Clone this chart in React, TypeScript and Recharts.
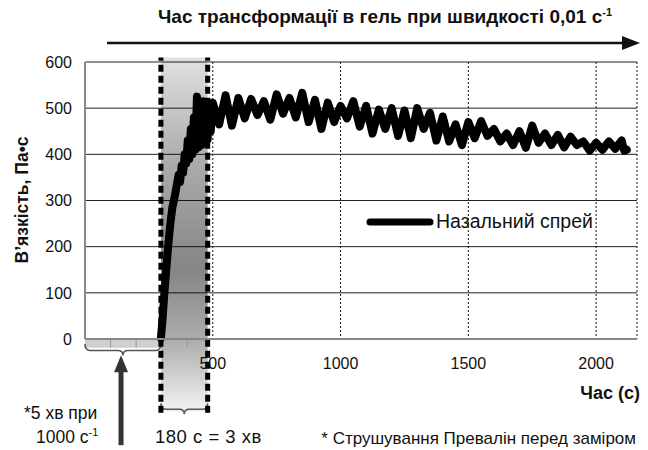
import React from "react";
import {
  ComposedChart,
  Line,
  XAxis,
  YAxis,
  CartesianGrid,
  ReferenceArea,
  ReferenceLine,
} from "recharts";

const TITLE = "Час трансформації в гель при швидкості 0,01 с";
const SERIES_NAME = "Назальний спрей";
const X_LABEL = "Час (с)";
const Y_LABEL = "В’язкість, Па•с";
const NOTE = "* Струшування Превалін перед заміром";

const X_TICKS = [500, 1000, 1500, 2000];
const Y_TICKS = [0, 100, 200, 300, 400, 500, 600];
const MINOR_TICKS = [100, 200, 400];

// pre-shear window (5 min at 1000 1/s) and gel window (180 s)
const SHEAR_WINDOW = [0, 297];
const GEL_WINDOW = [297, 480];

const riseTime = [297, 303, 310, 318, 326, 334, 342, 350, 358, 366, 372, 378, 384, 390, 396, 402, 408, 414, 420, 426, 432, 438, 444, 450, 456, 462, 468, 474, 480, 486, 492];
const riseVisc = [2, 40, 95, 150, 205, 250, 285, 305, 330, 355, 340, 375, 360, 400, 380, 430, 390, 455, 400, 480, 410, 525, 415, 505, 420, 515, 425, 510, 432, 505, 450];

const plateauTime = [
  500, 525, 550, 575, 600, 625, 650, 675, 700, 725, 750, 775, 800, 825, 850, 875, 900, 925, 950, 975,
  1000, 1025, 1050, 1075, 1100, 1125, 1150, 1175, 1200, 1225, 1250, 1275, 1300, 1325, 1350, 1375, 1400, 1425, 1450, 1475,
  1500, 1525, 1550, 1575, 1600, 1625, 1650, 1675, 1700, 1725, 1750, 1775, 1800, 1825, 1850, 1875, 1900, 1925, 1950, 1975,
  2000, 2025, 2050, 2075, 2100, 2110, 2120,
];
const plateauVisc = [
  512, 465, 528, 462, 522, 478, 520, 485, 515, 475, 530, 488, 522, 480, 533, 470, 518, 455, 512, 470,
  505, 478, 515, 460, 505, 445, 497, 455, 500, 440, 495, 435, 500, 455, 490, 430, 482, 428, 465, 420,
  470, 435, 472, 440, 455, 428, 445, 420, 450, 414, 462, 425, 445, 420, 442, 415, 438, 420, 428, 408,
  425, 410, 428, 412, 430, 408, 410,
];

const allTime = [...riseTime, ...plateauTime];
const allVisc = [...riseVisc, ...plateauVisc];
const data = allTime.map((t, i) => ({ t, v: allVisc[i] }));

const FONT = '"Liberation Sans", Arial, Helvetica, sans-serif';

const Brace = (props: any) => {
  const { x, y, width, height } = props;
  const mid = x + width / 2;
  const line = y + height * 0.55;
  const bot = y + height;
  const r = 5;
  const d = `M${x},${y} Q${x},${line} ${x + r},${line} L${mid - r},${line} Q${mid},${line} ${mid},${bot} Q${mid},${line} ${mid + r},${line} L${x + width - r},${line} Q${x + width},${line} ${x + width},${y}`;
  return <path d={d} fill="none" stroke="#555" strokeWidth={1.6} />;
};

const UpArrow = (props: any) => {
  const { x1, y1, y2 } = props;
  const top = Math.min(y1, y2);
  const bottom = Math.max(y1, y2);
  return (
    <g>
      <line x1={x1} y1={top + 14} x2={x1} y2={bottom} stroke="#333" strokeWidth={5} />
      <polygon points={`${x1 - 7},${top + 17} ${x1},${top} ${x1 + 7},${top + 17}`} fill="#333" />
    </g>
  );
};

export default function App() {
  return (
    <div
      style={{
        position: "absolute",
        left: 0,
        top: 0,
        width: 648,
        height: 450,
        background: "#fff",
        fontFamily: FONT,
      }}
    >
      <ComposedChart
        width={648}
        height={450}
        data={data}
        margin={{ top: 62, right: 11, left: 25, bottom: 71 }}
      >
        <defs>
          <linearGradient id="gelBand" x1="0" y1="0" x2="0" y2="1">
            <stop offset="0%" stopColor="#000" stopOpacity={0.12} />
            <stop offset="30%" stopColor="#000" stopOpacity={0.33} />
            <stop offset="60%" stopColor="#000" stopOpacity={0.48} />
            <stop offset="80%" stopColor="#000" stopOpacity={0.32} />
            <stop offset="100%" stopColor="#000" stopOpacity={0.04} />
          </linearGradient>
        </defs>
        <CartesianGrid vertical={false} stroke="#222" />
        <CartesianGrid horizontal={false} stroke="#111" strokeDasharray="2 2" />
        <XAxis
          type="number"
          dataKey="t"
          domain={[0, 2160]}
          ticks={X_TICKS}
          allowDataOverflow
          height={40}
          tickLine={false}
          tickSize={0}
          tickMargin={19}
          axisLine={{ stroke: "#888", strokeWidth: 2 }}
          tick={{ fontSize: 16, fill: "#111", fontFamily: FONT }}
        />
        <YAxis
          type="number"
          domain={[0, 600]}
          ticks={Y_TICKS}
          width={60}
          tickLine={false}
          tickSize={0}
          tickMargin={13}
          axisLine={{ stroke: "#888", strokeWidth: 2 }}
          tick={{ fontSize: 16, fill: "#111", fontFamily: FONT }}
        />
        <ReferenceArea
          x1={GEL_WINDOW[0]}
          x2={GEL_WINDOW[1]}
          y1={-158}
          y2={610}
          fill="url(#gelBand)"
          fillOpacity={1}
          ifOverflow="visible"
        />
        <ReferenceArea
          x1={SHEAR_WINDOW[0]}
          x2={SHEAR_WINDOW[1]}
          y1={-19}
          y2={0}
          fill="#cfcfcf"
          fillOpacity={1}
          ifOverflow="visible"
        />
        {MINOR_TICKS.map((t) => (
          <ReferenceLine
            key={t}
            segment={[{ x: t, y: 0 }, { x: t, y: -19 }]}
            stroke="#999"
            strokeWidth={1}
            ifOverflow="visible"
          />
        ))}
        <ReferenceArea
          x1={SHEAR_WINDOW[0]}
          x2={SHEAR_WINDOW[1]}
          y1={-11}
          y2={-36}
          ifOverflow="visible"
          shape={Brace}
        />
        <ReferenceArea
          x1={GEL_WINDOW[0]}
          x2={GEL_WINDOW[1]}
          y1={-139}
          y2={-163}
          ifOverflow="visible"
          shape={Brace}
        />
        <ReferenceLine
          segment={[{ x: 141, y: -230 }, { x: 141, y: -35 }]}
          ifOverflow="visible"
          shape={UpArrow}
        />
        <Line
          type="linear"
          dataKey="v"
          name={SERIES_NAME}
          stroke="#000"
          strokeWidth={8}
          strokeLinejoin="round"
          strokeLinecap="round"
          dot={false}
          isAnimationActive={false}
        />
        {GEL_WINDOW.map((t) => (
          <ReferenceLine
            key={t}
            segment={[{ x: t, y: -160 }, { x: t, y: 610 }]}
            stroke="#000"
            strokeWidth={5}
            strokeDasharray="7 4"
            ifOverflow="visible"
          />
        ))}
      </ComposedChart>

      <svg
        width={648}
        height={450}
        style={{ position: "absolute", left: 0, top: 0, pointerEvents: "none" }}
        fontFamily={FONT}
      >
        <text x={385} y={23} textAnchor="middle" fontSize={19} fontWeight="bold" fill="#111">
          {TITLE}
          <tspan dy={-7} fontSize={11}>-1</tspan>
        </text>
        <line x1={107} y1={43} x2={624} y2={43} stroke="#111" strokeWidth={2.5} />
        <polygon points="622,36 640,43 622,50" fill="#111" />

        <text transform="translate(28,200) rotate(-90)" textAnchor="middle" fontSize={17.5} fontWeight="bold" fill="#111">
          {Y_LABEL}
        </text>
        <text x={640} y={399} textAnchor="end" fontSize={18} fontWeight="bold" fill="#111">
          {X_LABEL}
        </text>

        <line x1={370} y1={222} x2={430} y2={222} stroke="#000" strokeWidth={7} strokeLinecap="round" />
        <text x={436} y={228} fontSize={19.5} fill="#111">{SERIES_NAME}</text>

        <text x={24} y={419} fontSize={17.5} fill="#111">*5 хв при</text>
        <text x={36} y={443} fontSize={17.5} fill="#111">
          1000 с<tspan dy={-7} fontSize={11}>-1</tspan>
        </text>
        <text x={155} y={443} fontSize={18.5} letterSpacing={0.5} fill="#111">180 с = 3 хв</text>
        <text x={636} y={444} textAnchor="end" fontSize={17} fill="#111">{NOTE}</text>
      </svg>
    </div>
  );
}
